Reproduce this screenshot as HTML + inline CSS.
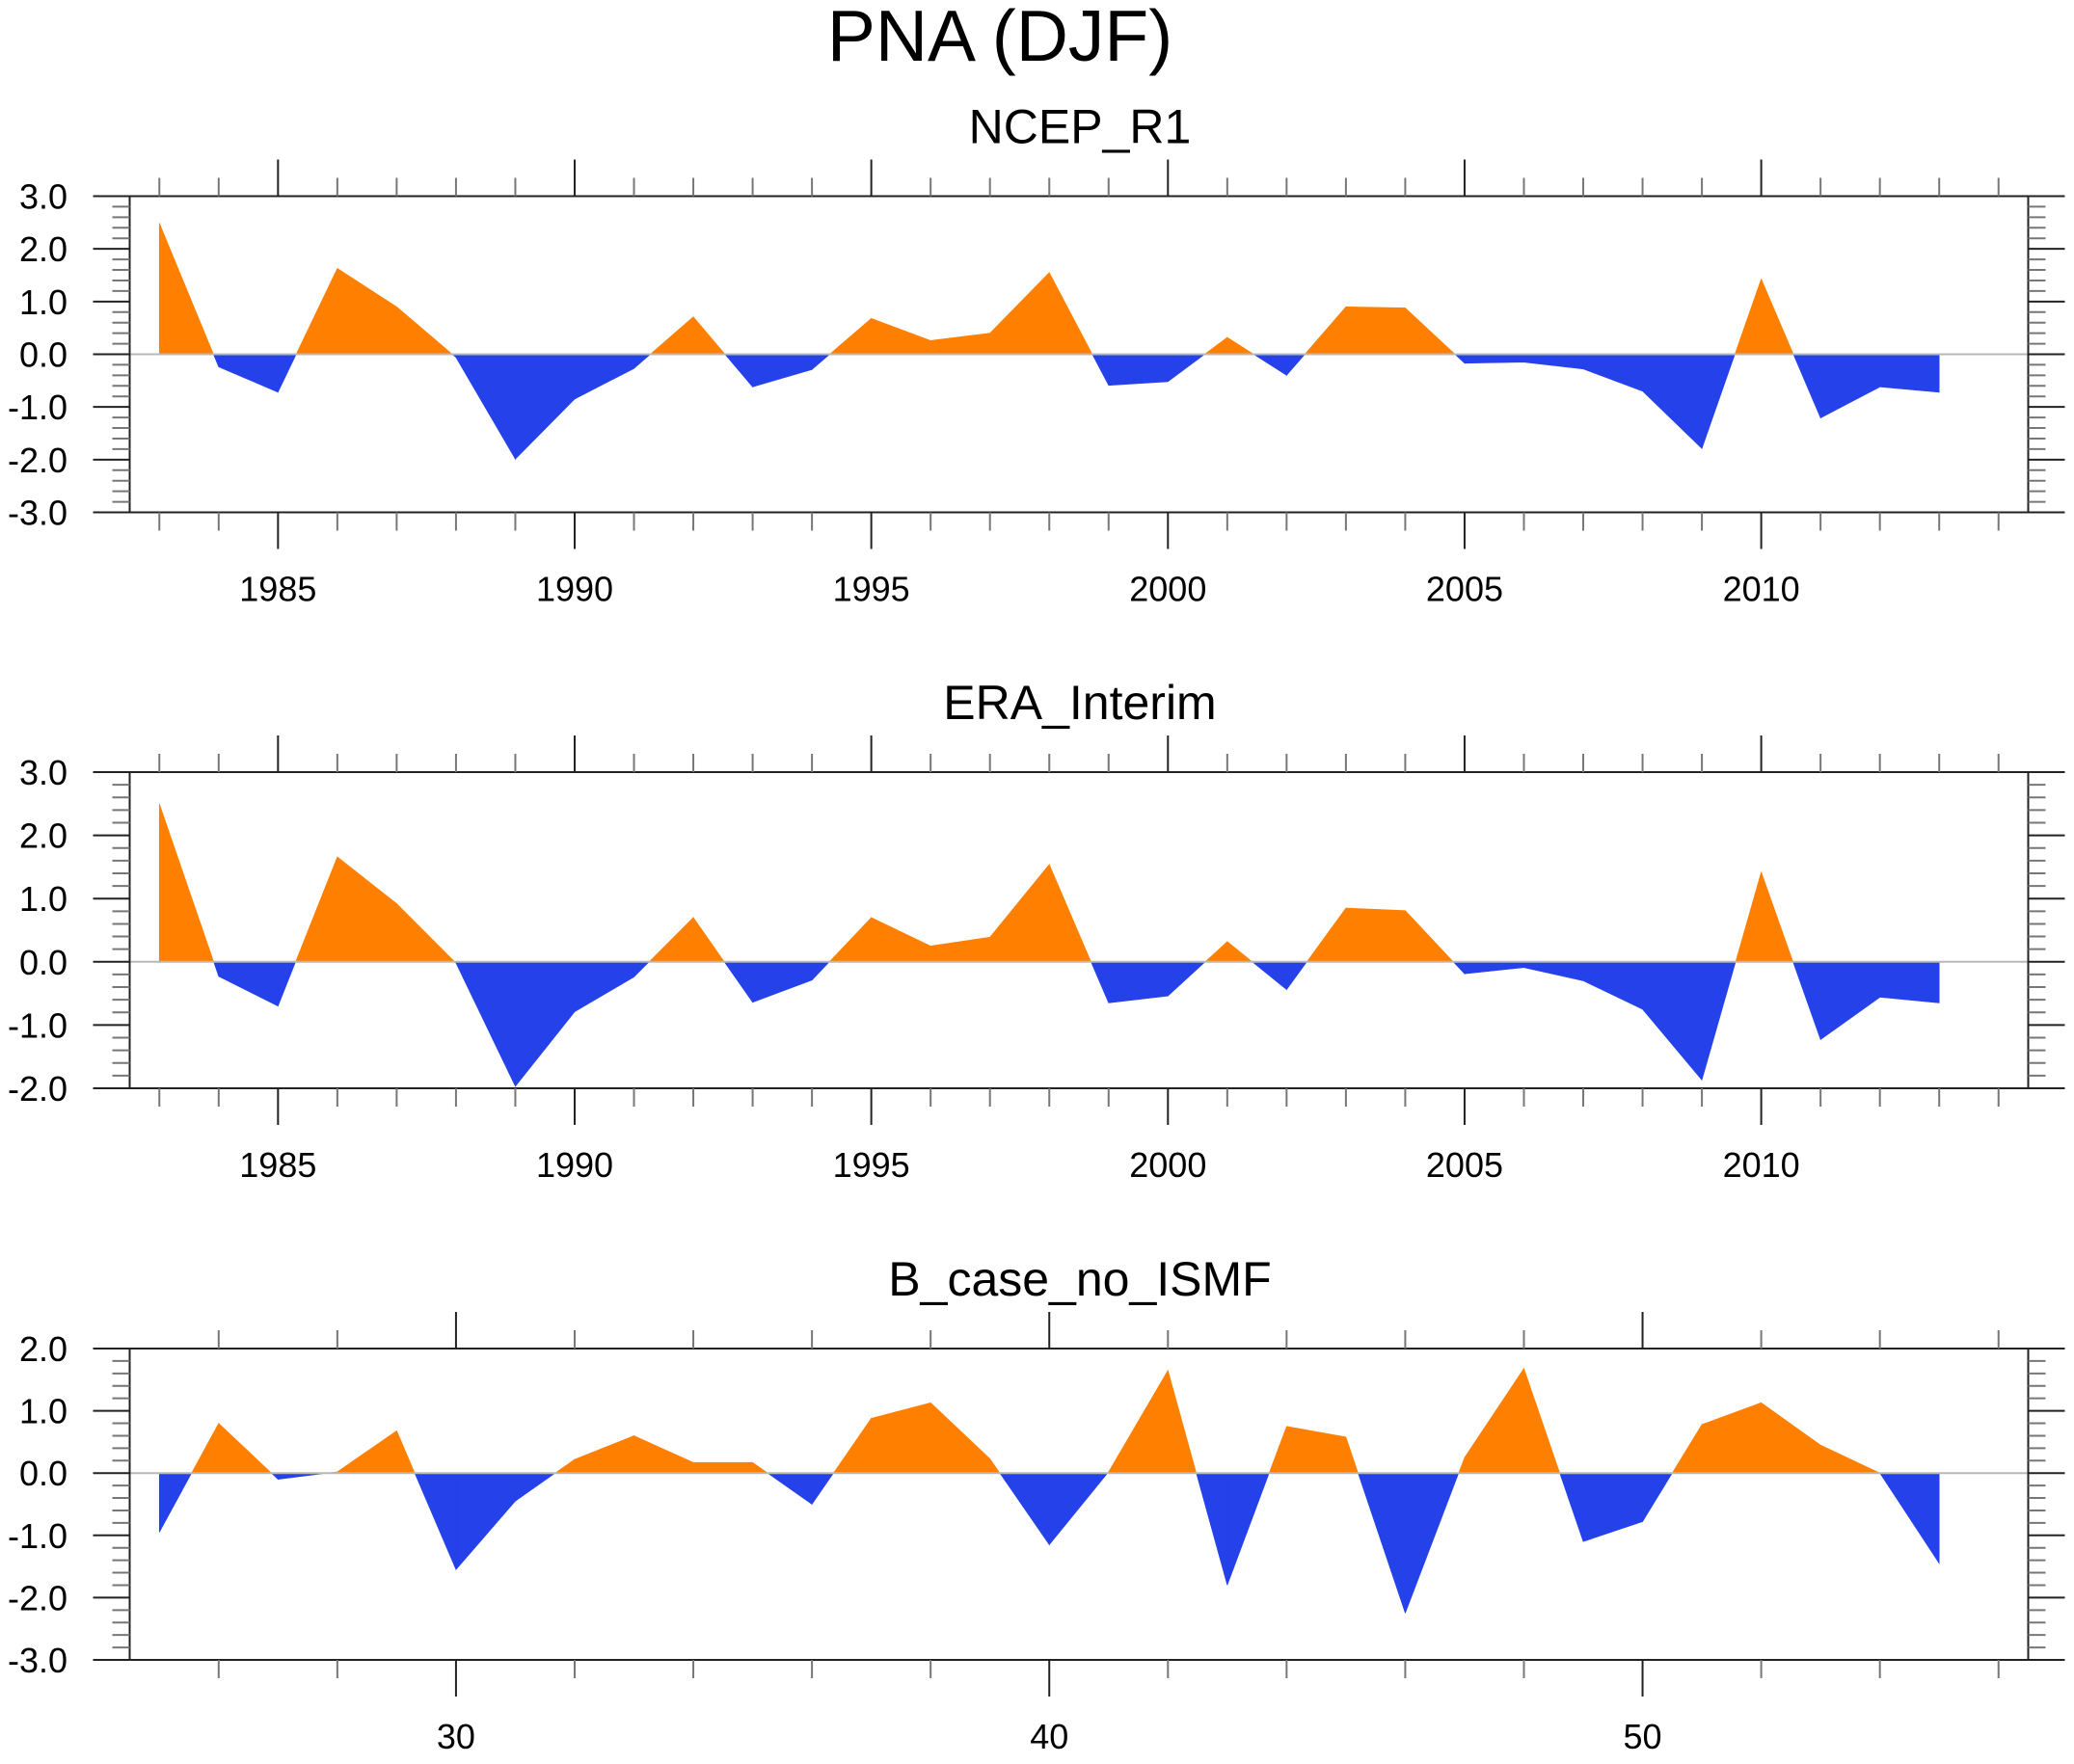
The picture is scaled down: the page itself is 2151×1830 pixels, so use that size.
<!DOCTYPE html>
<html><head><meta charset="utf-8"><title>PNA (DJF)</title>
<style>html,body{margin:0;padding:0;background:#fff;}svg{display:block;}text{font-family:"Liberation Sans",sans-serif;fill:#000;}</style>
</head><body>
<svg id="chart" width="2151" height="1830" viewBox="0 0 2151 1830" xmlns="http://www.w3.org/2000/svg">
<text x="1037" y="63" font-size="75" text-anchor="middle">PNA (DJF)</text>
</svg>
<script>
const ncepYears = [1983,1984,1985,1986,1987,1988,1989,1990,1991,1992,1993,1994,1995,1996,1997,1998,1999,2000,2001,2002,2003,2004,2005,2006,2007,2008,2009,2010,2011,2012,2013];
const ncepValues = [2.49,-0.24,-0.72,1.63,0.9,-0.06,-1.99,-0.85,-0.27,0.71,-0.62,-0.29,0.68,0.26,0.4,1.55,-0.59,-0.52,0.32,-0.4,0.9,0.88,-0.17,-0.15,-0.28,-0.7,-1.79,1.43,-1.21,-0.62,-0.72];
const eraYears = ncepYears.slice();
const eraValues = [2.5,-0.23,-0.7,1.66,0.92,-0.02,-1.97,-0.79,-0.24,0.7,-0.64,-0.29,0.7,0.25,0.39,1.54,-0.65,-0.54,0.32,-0.44,0.85,0.81,-0.19,-0.09,-0.3,-0.75,-1.87,1.42,-1.23,-0.56,-0.65];
const caseX = [25,26,27,28,29,30,31,32,33,34,35,36,37,38,39,40,41,42,43,44,45,46,47,48,49,50,51,52,53,54,55];
const caseValues = [-0.95,0.8,-0.1,0.02,0.68,-1.55,-0.45,0.22,0.6,0.17,0.17,-0.5,0.88,1.13,0.23,-1.15,0.02,1.65,-1.8,0.75,0.58,-2.25,0.25,1.68,-1.1,-0.78,0.78,1.13,0.45,0.0,-1.45];
const yTicks1 = ["3.0","2.0","1.0","0.0","-1.0","-2.0","-3.0"];
const yTicks2 = ["3.0","2.0","1.0","0.0","-1.0","-2.0"];
const yTicks3 = ["2.0","1.0","0.0","-1.0","-2.0","-3.0"];
const xLabels12 = ["1985","1990","1995","2000","2005","2010"];
const xLabels3 = ["30","40","50"];

const NS = "http://www.w3.org/2000/svg";
const svg = document.getElementById("chart");
function mk(tag, attrs, parent){const e=document.createElementNS(NS,tag);for(const k in attrs)e.setAttribute(k,attrs[k]);(parent||svg).appendChild(e);return e;}

const L=134.5, R=2103.5;
function panel(cfg){
  const g = mk("g",{});
  
  
  const {top,bottom,ymax,ymin,xmin,xmax} = cfg;
  const xs = v => L + (v - xmin)/(xmax - xmin)*(R-L);
  const ys = v => top + (ymax - v)/(ymax - ymin)*(bottom-top);
  const t = mk("text",{x:1120,y:top-55,"font-size":50,"text-anchor":"middle"},g);
  t.textContent = cfg.title;
  
  
  const xv = cfg.xv, yv = cfg.yv, y0 = ys(0);
  let pos = "", neg = "";
  for(let i=0;i<xv.length-1;i++){
    const x1=xv[i],x2=xv[i+1],v1=yv[i],v2=yv[i+1];
    let pts=[[x1,v1]];
    if((v1>0&&v2<0)||(v1<0&&v2>0)){const xc=x1+(x2-x1)*v1/(v1-v2);pts.push([xc,0]);}
    pts.push([x2,v2]);
    for(let j=0;j<pts.length-1;j++){
      const a=pts[j],b=pts[j+1];
      const mid=(a[1]+b[1])/2;
      const poly=`M${xs(a[0])},${y0} L${xs(a[0])},${ys(a[1])} L${xs(b[0])},${ys(b[1])} L${xs(b[0])},${y0} Z `;
      if(mid>=0) pos+=poly; else neg+=poly;
    }
  }
  const p1=mk("path",{d:pos,fill:"#FF8000",stroke:"#FF8000","stroke-width":0.6},g);
  
  
  const p2=mk("path",{d:neg,fill:"#2541EA",stroke:"#2541EA","stroke-width":0.6},g);
  
  
  const zl=mk("line",{x1:L,x2:R,y1:y0,y2:y0,stroke:"#b8b8b8","stroke-width":2},g);
  
  
  const bx=mk("rect",{x:L,y:top,width:R-L,height:bottom-top,fill:"none",stroke:"#222","stroke-width":2},g);
  
  
  const nMinor = Math.round((ymax-ymin)/0.2);
  for(let k=0;k<=nMinor;k++){
    const v=ymax-k*0.2, y=ys(v), major=(k%5===0);
    const len=major?38:18, col=major?"#222":"#777";
    mk("line",{x1:L-len,x2:L,y1:y,y2:y,stroke:col,"stroke-width":2},g);
    mk("line",{x1:R,x2:R+len,y1:y,y2:y,stroke:col,"stroke-width":2},g);
  }
  cfg.yTicks.forEach(s=>{
    const tx=mk("text",{x:70,y:ys(parseFloat(s))+13,"font-size":36,"text-anchor":"end"},g);
    tx.textContent=s;
    
    
  });
  for(let v=cfg.tickStart; v<=xmax; v+=cfg.tickStep){
    const x=xs(v), major=((v-cfg.majorBase)%cfg.majorStep===0);
    const len=major?38:19, col=major?"#222":"#777";
    mk("line",{x1:x,x2:x,y1:top-len,y2:top,stroke:col,"stroke-width":2},g);
    mk("line",{x1:x,x2:x,y1:bottom,y2:bottom+len,stroke:col,"stroke-width":2},g);
  }
  cfg.xLabels.forEach(s=>{
    const tx=mk("text",{x:xs(parseFloat(s)),y:bottom+92,"font-size":36,"text-anchor":"middle"},g);
    tx.textContent=s;
    
    
  });
}
panel({name:"ncep-panel",title:"NCEP_R1",top:203.5,bottom:531.5,ymax:3,ymin:-3,xmin:1982.5,xmax:2014.5,xv:ncepYears,yv:ncepValues,yTicks:yTicks1,xLabels:xLabels12,tickStart:1983,tickStep:1,majorBase:1985,majorStep:5});
panel({name:"era-panel",title:"ERA_Interim",top:801,bottom:1129,ymax:3,ymin:-2,xmin:1982.5,xmax:2014.5,xv:eraYears,yv:eraValues,yTicks:yTicks2,xLabels:xLabels12,tickStart:1983,tickStep:1,majorBase:1985,majorStep:5});
panel({name:"case-panel",title:"B_case_no_ISMF",top:1399,bottom:1722,ymax:2,ymin:-3,xmin:24.5,xmax:56.5,xv:caseX,yv:caseValues,yTicks:yTicks3,xLabels:xLabels3,tickStart:26,tickStep:2,majorBase:30,majorStep:10});
</script>
</body></html>
